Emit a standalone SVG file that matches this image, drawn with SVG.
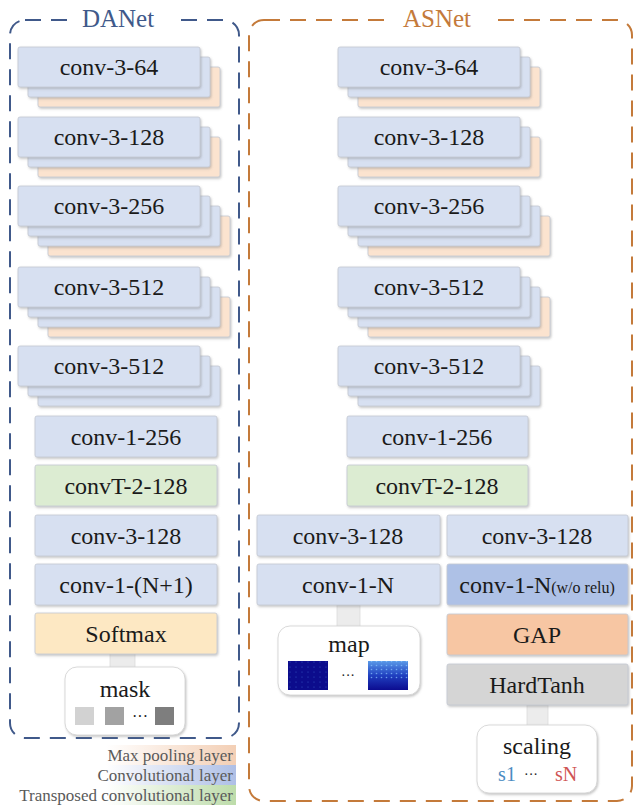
<svg xmlns="http://www.w3.org/2000/svg" width="637" height="805" viewBox="0 0 637 805" font-family="'Liberation Serif', 'DejaVu Serif', serif">
<style>
text{font-family:'Liberation Serif','DejaVu Serif',serif;fill:#1a1a1a;text-anchor:middle}
.lbl{font-size:24px}
.b{stroke:#c3c8d2;stroke-width:0.8;filter:url(#sh)}
.conv{fill:#d7e0f1}
.pool{fill:#fbe3cf}
.tconv{fill:#dcecd2}
.soft{fill:#fde8c3}
.conv2{fill:#aec1e6}
.gap{fill:#f7c6a3}
.hard{fill:#d5d5d5}
.out{fill:#ffffff;stroke:#d0d0d0;stroke-width:0.8;filter:url(#sh)}
.link{fill:#ececec;stroke:#dddddd;stroke-width:0.8}
.leg{font-size:17px;fill:#5a5a5a;text-anchor:end}
</style>
<defs>
<filter id="sh" x="-10%" y="-20%" width="125%" height="150%">
<feDropShadow dx="1" dy="1.5" stdDeviation="1.2" flood-color="#808080" flood-opacity="0.45"/>
</filter>
<linearGradient id="gPool" x1="0" x2="1" y1="0" y2="0"><stop offset="0.45" stop-color="#ffffff"/><stop offset="1" stop-color="#f3cfb5"/></linearGradient>
<linearGradient id="gConv" x1="0" x2="1" y1="0" y2="0"><stop offset="0.45" stop-color="#ffffff"/><stop offset="1" stop-color="#aebfe6"/></linearGradient>
<linearGradient id="gT" x1="0" x2="1" y1="0" y2="0"><stop offset="0.45" stop-color="#ffffff"/><stop offset="1" stop-color="#bddcaa"/></linearGradient>
<linearGradient id="gMap2" x1="0" x2="0" y1="0" y2="1"><stop offset="0" stop-color="#5a9ae8"/><stop offset="0.5" stop-color="#2040c0"/><stop offset="1" stop-color="#0c0c90"/></linearGradient>
<pattern id="dots1" width="6" height="5" patternUnits="userSpaceOnUse"><rect width="6" height="5" fill="#0c0c8c"/><circle cx="2" cy="2" r="0.6" fill="#3050c0"/></pattern>
<pattern id="dots2" width="5" height="4" patternUnits="userSpaceOnUse"><circle cx="1.5" cy="1.5" r="0.8" fill="#8ac8ff" opacity="0.7"/></pattern>
</defs>
<rect width="637" height="805" fill="#ffffff"/>

<g id="legend">
<rect x="0" y="745" width="236" height="20" fill="url(#gPool)"/>
<rect x="0" y="765" width="236" height="20" fill="url(#gConv)"/>
<rect x="0" y="785" width="236" height="20" fill="url(#gT)"/>
<text class="leg" x="233" y="761">Max pooling layer</text>
<text class="leg" x="233" y="781">Convolutional layer</text>
<text class="leg" x="233" y="801">Transposed convolutional layer</text>
</g>

<g id="danet-frame">
<rect x="10" y="20" width="229" height="718" rx="15" fill="none" stroke="#40598a" stroke-width="2" stroke-dasharray="16 10"/>
<rect x="73" y="8" width="99" height="24" fill="#ffffff"/>
<text x="118" y="27" style="font-size:25px;fill:#40598a">DANet</text>
</g>
<g id="asnet-frame">
<rect x="249" y="20" width="383" height="781" rx="15" fill="none" stroke="#c47a3a" stroke-width="2" stroke-dasharray="16 10"/>
<rect x="389" y="8" width="105" height="24" fill="#ffffff"/>
<text x="437" y="27" style="font-size:25px;fill:#c47a3a">ASNet</text>
</g>

<g id="connectors">
<rect class="link" x="110" y="653" width="25" height="15"/>
<rect class="link" x="337" y="605" width="23" height="22"/>
<rect class="link" x="527" y="705" width="21" height="21"/>
</g>

<!-- DANet nodes -->
<g id="da-conv3-64">
<rect class="b pool" x="38" y="67" width="182" height="40" rx="2"/>
<rect class="b conv" x="28" y="57" width="182" height="40" rx="2"/>
<rect class="b conv" x="18" y="47" width="182" height="40" rx="2"/>
<text class="lbl" x="109" y="75">conv-3-64</text>
</g>
<g id="da-conv3-128">
<rect class="b pool" x="38" y="137" width="182" height="40" rx="2"/>
<rect class="b conv" x="28" y="127" width="182" height="40" rx="2"/>
<rect class="b conv" x="18" y="117" width="182" height="40" rx="2"/>
<text class="lbl" x="109" y="145">conv-3-128</text>
</g>
<g id="da-conv3-256">
<rect class="b pool" x="48" y="216" width="182" height="40" rx="2"/>
<rect class="b conv" x="38" y="206" width="182" height="40" rx="2"/>
<rect class="b conv" x="28" y="196" width="182" height="40" rx="2"/>
<rect class="b conv" x="18" y="186" width="182" height="40" rx="2"/>
<text class="lbl" x="109" y="214">conv-3-256</text>
</g>
<g id="da-conv3-512a">
<rect class="b pool" x="48" y="297" width="182" height="40" rx="2"/>
<rect class="b conv" x="38" y="287" width="182" height="40" rx="2"/>
<rect class="b conv" x="28" y="277" width="182" height="40" rx="2"/>
<rect class="b conv" x="18" y="267" width="182" height="40" rx="2"/>
<text class="lbl" x="109" y="295">conv-3-512</text>
</g>
<g id="da-conv3-512b">
<rect class="b conv" x="38" y="366" width="182" height="40" rx="2"/>
<rect class="b conv" x="28" y="356" width="182" height="40" rx="2"/>
<rect class="b conv" x="18" y="346" width="182" height="40" rx="2"/>
<text class="lbl" x="109" y="374">conv-3-512</text>
</g>
<g id="da-conv1-256">
<rect class="b conv" x="35" y="416" width="182" height="41" rx="2"/>
<text class="lbl" x="126" y="445">conv-1-256</text>
</g>
<g id="da-convT">
<rect class="b tconv" x="35" y="465" width="182" height="41" rx="2"/>
<text class="lbl" x="126" y="494">convT-2-128</text>
</g>
<g id="da-conv3-128b">
<rect class="b conv" x="35" y="515" width="182" height="41" rx="2"/>
<text class="lbl" x="126" y="544">conv-3-128</text>
</g>
<g id="da-conv1-N1">
<rect class="b conv" x="35" y="564" width="182" height="41" rx="2"/>
<text class="lbl" x="126" y="593">conv-1-(N+1)</text>
</g>
<g id="da-softmax">
<rect class="b soft" x="35" y="613" width="182" height="41" rx="2"/>
<text class="lbl" x="126" y="642">Softmax</text>
</g>
<g id="da-mask">
<rect class="out" x="65" y="667" width="120" height="68" rx="12"/>
<text class="lbl" x="125" y="697">mask</text>
<rect x="75" y="707" width="19" height="18" fill="#d2d2d2"/>
<rect x="105" y="707" width="19" height="18" fill="#a2a2a2"/>
<text x="140" y="722" style="font-size:16px">···</text>
<rect x="155" y="707" width="19" height="18" fill="#7e7e7e"/>
</g>

<!-- ASNet nodes -->
<g id="as-conv3-64">
<rect class="b pool" x="358" y="67" width="182" height="40" rx="2"/>
<rect class="b conv" x="348" y="57" width="182" height="40" rx="2"/>
<rect class="b conv" x="338" y="47" width="182" height="40" rx="2"/>
<text class="lbl" x="429" y="75">conv-3-64</text>
</g>
<g id="as-conv3-128">
<rect class="b pool" x="358" y="137" width="182" height="40" rx="2"/>
<rect class="b conv" x="348" y="127" width="182" height="40" rx="2"/>
<rect class="b conv" x="338" y="117" width="182" height="40" rx="2"/>
<text class="lbl" x="429" y="145">conv-3-128</text>
</g>
<g id="as-conv3-256">
<rect class="b pool" x="368" y="216" width="182" height="40" rx="2"/>
<rect class="b conv" x="358" y="206" width="182" height="40" rx="2"/>
<rect class="b conv" x="348" y="196" width="182" height="40" rx="2"/>
<rect class="b conv" x="338" y="186" width="182" height="40" rx="2"/>
<text class="lbl" x="429" y="214">conv-3-256</text>
</g>
<g id="as-conv3-512a">
<rect class="b pool" x="368" y="297" width="182" height="40" rx="2"/>
<rect class="b conv" x="358" y="287" width="182" height="40" rx="2"/>
<rect class="b conv" x="348" y="277" width="182" height="40" rx="2"/>
<rect class="b conv" x="338" y="267" width="182" height="40" rx="2"/>
<text class="lbl" x="429" y="295">conv-3-512</text>
</g>
<g id="as-conv3-512b">
<rect class="b conv" x="358" y="366" width="182" height="40" rx="2"/>
<rect class="b conv" x="348" y="356" width="182" height="40" rx="2"/>
<rect class="b conv" x="338" y="346" width="182" height="40" rx="2"/>
<text class="lbl" x="429" y="374">conv-3-512</text>
</g>
<g id="as-conv1-256">
<rect class="b conv" x="347" y="416" width="181" height="41" rx="2"/>
<text class="lbl" x="437" y="445">conv-1-256</text>
</g>
<g id="as-convT">
<rect class="b tconv" x="347" y="465" width="181" height="41" rx="2"/>
<text class="lbl" x="437" y="494">convT-2-128</text>
</g>
<g id="as-conv3-128-left">
<rect class="b conv" x="257" y="515" width="183" height="41" rx="2"/>
<text class="lbl" x="348" y="544">conv-3-128</text>
</g>
<g id="as-conv3-128-right">
<rect class="b conv" x="447" y="515" width="181" height="41" rx="2"/>
<text class="lbl" x="537" y="544">conv-3-128</text>
</g>
<g id="as-conv1-N">
<rect class="b conv" x="257" y="564" width="183" height="41" rx="2"/>
<text class="lbl" x="348" y="593">conv-1-N</text>
</g>
<g id="as-conv1-N-norelu">
<rect class="b conv2" x="447" y="564" width="181" height="41" rx="2"/>
<text class="lbl" x="537" y="593">conv-1-N<tspan style="font-size:16px">(w/o relu)</tspan></text>
</g>
<g id="as-gap">
<rect class="b gap" x="447" y="614" width="181" height="41" rx="2"/>
<text class="lbl" x="537" y="643">GAP</text>
</g>
<g id="as-hardtanh">
<rect class="b hard" x="447" y="664" width="181" height="41" rx="2"/>
<text class="lbl" x="537" y="693">HardTanh</text>
</g>
<g id="as-map">
<rect class="out" x="278" y="626" width="142" height="69" rx="12"/>
<text class="lbl" x="349" y="652">map</text>
<rect x="288" y="661" width="40" height="29" fill="url(#dots1)"/>
<text x="348" y="680" style="font-size:14px">···</text>
<rect x="368" y="661" width="40" height="29" fill="url(#gMap2)"/>
<rect x="368" y="661" width="40" height="18" fill="url(#dots2)"/>
</g>
<g id="as-scaling">
<rect class="out" x="477" y="725" width="120" height="68" rx="12"/>
<text class="lbl" x="537" y="754">scaling</text>
<text x="507" y="781" style="font-size:20px;fill:#4a8cc2">s1</text>
<text x="531" y="779" style="font-size:14px">···</text>
<text x="566" y="781" style="font-size:20px;fill:#d05555">sN</text>
</g>
</svg>
